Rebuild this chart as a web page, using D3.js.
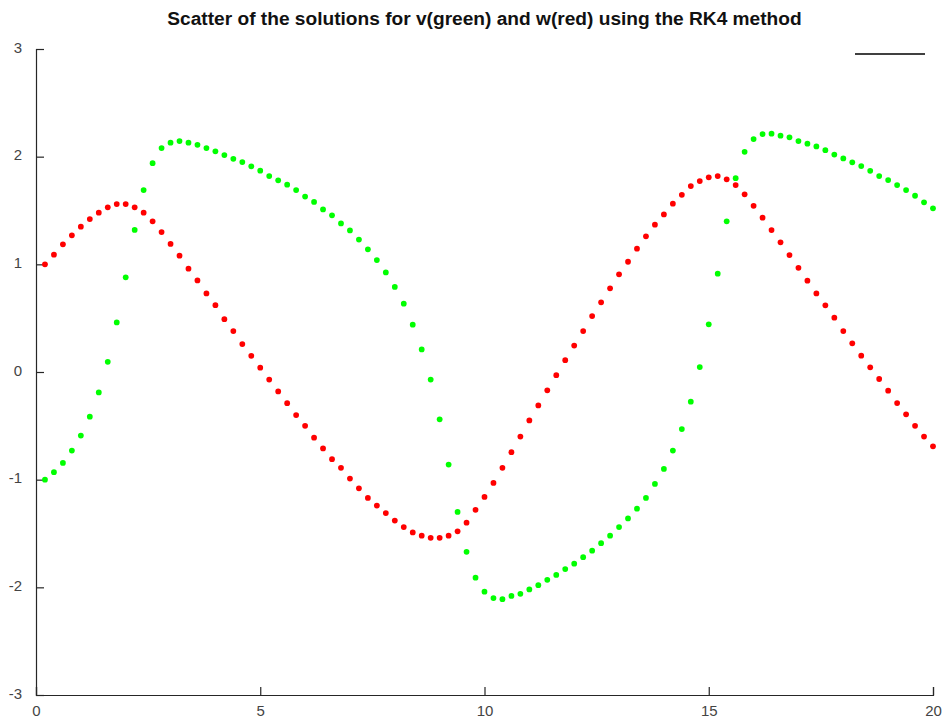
<!DOCTYPE html>
<html>
<head>
<meta charset="utf-8">
<script src="https://cdn.jsdelivr.net/npm/d3@7"></script>
<style>
  body { margin: 0; background: #fff; }
  text { font-family: "Liberation Sans", Arial, sans-serif; }
</style>
</head>
<body>
<div id="chart"></div>
<script>
// 采样步长 0.2，第一个点画在 t=0.2 处
const step = 0.2;

// v (绿色) 的数值
const vValues = [
  -1.00, -0.93, -0.845, -0.73, -0.59, -0.415, -0.19, 0.095, 0.46, 0.88,
  1.32, 1.69, 1.94, 2.08, 2.13, 2.145, 2.13, 2.11, 2.08, 2.05,
  2.015, 1.98, 1.95, 1.91, 1.87, 1.82, 1.78, 1.74, 1.69, 1.63,
  1.58, 1.51, 1.455, 1.38, 1.315, 1.23, 1.14, 1.04, 0.925, 0.79,
  0.635, 0.44, 0.21, -0.07, -0.44, -0.86, -1.30, -1.67, -1.91, -2.04,
  -2.10, -2.11, -2.08, -2.06, -2.02, -1.98, -1.93, -1.885, -1.83, -1.78,
  -1.72, -1.66, -1.59, -1.52, -1.44, -1.36, -1.27, -1.17, -1.04, -0.90,
  -0.73, -0.53, -0.276, 0.046, 0.443, 0.913, 1.40, 1.80, 2.045, 2.163,
  2.21, 2.213, 2.195, 2.18, 2.145, 2.12, 2.095, 2.06, 2.02, 1.984,
  1.947, 1.913, 1.869, 1.82, 1.783, 1.736, 1.69, 1.637, 1.576, 1.52
];

// w (红色) 的数值
const wValues = [
  1.00, 1.09, 1.186, 1.27, 1.35, 1.42, 1.48, 1.53, 1.56, 1.56,
  1.53, 1.48, 1.40, 1.30, 1.19, 1.08, 0.96, 0.85, 0.73, 0.62,
  0.49, 0.38, 0.26, 0.15, 0.04, -0.07, -0.18, -0.29, -0.40, -0.50,
  -0.61, -0.71, -0.81, -0.89, -0.99, -1.08, -1.17, -1.24, -1.31, -1.38,
  -1.44, -1.49, -1.52, -1.54, -1.54, -1.52, -1.48, -1.40, -1.28, -1.16,
  -1.03, -0.89, -0.745, -0.60, -0.45, -0.31, -0.17, -0.03, 0.11, 0.245,
  0.38, 0.52, 0.647, 0.777, 0.907, 1.024, 1.145, 1.26, 1.368, 1.464,
  1.563, 1.646, 1.727, 1.773, 1.808, 1.82, 1.79, 1.736, 1.65, 1.544,
  1.433, 1.318, 1.204, 1.086, 0.968, 0.848, 0.73, 0.619, 0.504, 0.38,
  0.266, 0.151, 0.044, -0.065, -0.173, -0.288, -0.393, -0.50, -0.60, -0.69
];

const xTicks = [0, 5, 10, 15, 20];
const yTicks = [-3, -2, -1, 0, 1, 2, 3];
const titleText = "Scatter of the solutions for v(green) and w(red) using the RK4 method";

const width = 946, height = 719;
const margin = { top: 49, right: 13, bottom: 24, left: 36 };

const svg = d3.select("#chart").append("svg")
    .attr("width", width)
    .attr("height", height);

const x = d3.scaleLinear().domain([0, 20]).range([margin.left, width - margin.right]);
const y = d3.scaleLinear().domain([-3, 3]).range([height - margin.bottom, margin.top]);

// 标题
const title = svg.append("text")
    .attr("x", (x(0) + x(20)) / 2)
    .attr("y", 25)
    .attr("text-anchor", "middle")
    .attr("font-size", 15)
    .attr("font-weight", "bold")
    .attr("fill", "#111")
    .text(titleText);
// 调整字号让宽度接近原图
const tw = title.node().getComputedTextLength();
title.attr("font-size", 15 * 635 / tw);

// 坐标轴：刻度朝内，负号用普通连字符
const fmt = d => String(d);

const xAxis = svg.append("g")
    .attr("transform", `translate(0,${y(-3)})`)
    .call(d3.axisBottom(x).tickValues(xTicks).tickSize(-8).tickPadding(10).tickFormat(fmt));

const yAxis = svg.append("g")
    .attr("transform", `translate(${x(0)},0)`)
    .call(d3.axisLeft(y).tickValues(yTicks).tickSize(-8).tickPadding(14).tickFormat(fmt));

[xAxis, yAxis].forEach(g => {
    g.select(".domain").attr("stroke", "#262626").attr("stroke-width", 1.2);
    g.selectAll(".tick line").attr("stroke", "#262626").attr("stroke-width", 1.2);
    g.selectAll(".tick text")
        .attr("fill", "#444")
        .attr("font-size", 15)
        .attr("font-family", "'Liberation Sans', Arial, sans-serif");
});
yAxis.selectAll(".tick text").attr("dy", "0.2em");

// 散点
const series = [
    { name: "v", values: vValues, color: "#00ff00" },
    { name: "w", values: wValues, color: "#ff0000" }
];

series.forEach(s => {
    svg.append("g")
        .selectAll("path")
        .data(s.values)
        .enter().append("path")
        .attr("d", d3.symbol().type(d3.symbolCircle).size(26))
        .attr("transform", (d, i) => `translate(${x((i + 1) * step)},${y(d)})`)
        .attr("fill", s.color);
});

// 图例：只有一条黑线
svg.append("line")
    .attr("x1", 855).attr("x2", 925)
    .attr("y1", 54).attr("y2", 54)
    .attr("stroke", "#000")
    .attr("stroke-width", 1.5);
</script>
</body>
</html>
